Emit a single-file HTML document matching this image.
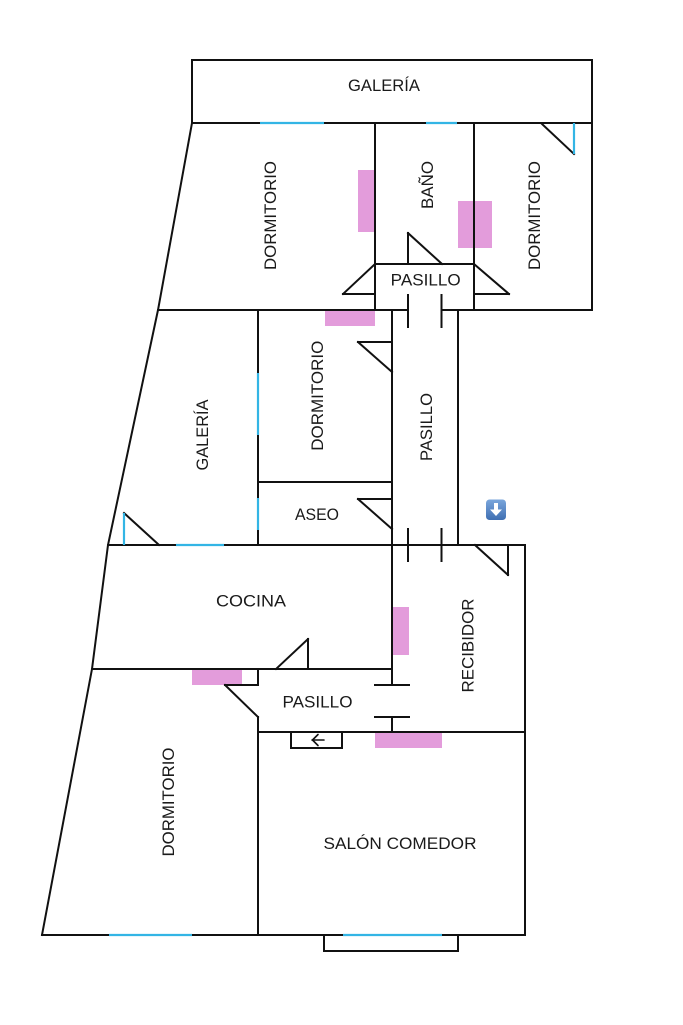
<!DOCTYPE html>
<html>
<head>
<meta charset="utf-8">
<style>
  html,body{margin:0;padding:0;background:#fff;}
  body{width:683px;height:1025px;overflow:hidden;}
  svg{display:block;}
  text{font-family:"Liberation Sans",Arial,sans-serif;font-size:17px;fill:#1a1a1a;}
</style>
</head>
<body>
<svg width="683" height="1025" viewBox="0 0 683 1025" xmlns="http://www.w3.org/2000/svg">
  <defs>
    <linearGradient id="ig" x1="0" y1="0" x2="0" y2="1">
      <stop offset="0" stop-color="#7aa6dc"/>
      <stop offset="1" stop-color="#3f6fb2"/>
    </linearGradient>
  </defs>
  <rect width="683" height="1025" fill="#fff"/>

  <!-- magenta blocks -->
  <g fill="#e39cdb">
    <rect x="358" y="170" width="16" height="62"/>
    <rect x="458" y="201" width="34" height="47"/>
    <rect x="325" y="311" width="50" height="15"/>
    <rect x="392" y="607" width="17" height="48"/>
    <rect x="192" y="669" width="50" height="16"/>
    <rect x="375" y="732" width="67" height="16"/>
  </g>

  <!-- walls -->
  <g stroke="#111" stroke-width="2" fill="none" stroke-linecap="square">
    <!-- top galeria -->
    <path d="M192,60 H592 V123 H192 Z"/>
    <!-- left outer wall -->
    <polyline points="192,123 158,310 108,545 92,669 42,935"/>
    <!-- bottom -->
    <line x1="42" y1="935" x2="525" y2="935"/>
    <!-- right upper wall -->
    <line x1="592" y1="123" x2="592" y2="310"/>
    <!-- y=310 -->
    <line x1="158" y1="310" x2="408" y2="310"/>
    <line x1="441.5" y1="310" x2="592" y2="310"/>
    <!-- upper partitions -->
    <line x1="375" y1="123" x2="375" y2="310"/>
    <line x1="474" y1="123" x2="474" y2="310"/>
    <line x1="375" y1="264" x2="474" y2="264"/>
    <!-- bano door -->
    <line x1="408" y1="233" x2="408" y2="264"/>
    <line x1="408" y1="233" x2="442" y2="264"/>
    <!-- pasillo left door -->
    <line x1="375" y1="264" x2="343" y2="294"/>
    <line x1="343" y1="294" x2="375" y2="294"/>
    <!-- pasillo right door -->
    <line x1="474" y1="264" x2="509" y2="294"/>
    <line x1="474" y1="294" x2="509" y2="294"/>
    <!-- top stubs -->
    <line x1="408" y1="295" x2="408" y2="327"/>
    <line x1="441.5" y1="295" x2="441.5" y2="327"/>
    <!-- top right door -->
    <line x1="542" y1="124" x2="574" y2="154"/>
    <!-- x=258 wall upper -->
    <line x1="258" y1="310" x2="258" y2="545"/>
    <!-- corridor walls -->
    <line x1="392" y1="310" x2="392" y2="685"/>
    <line x1="392" y1="717" x2="392" y2="732"/>
    <line x1="458" y1="310" x2="458" y2="545"/>
    <!-- dormitorio bottom -->
    <line x1="258" y1="482" x2="392" y2="482"/>
    <!-- dormitorio door -->
    <line x1="358" y1="342" x2="392" y2="342"/>
    <line x1="358" y1="342" x2="392" y2="372"/>
    <!-- aseo door -->
    <line x1="358" y1="499" x2="392" y2="499"/>
    <line x1="358" y1="499" x2="392" y2="529"/>
    <!-- galeria door -->
    <line x1="124" y1="513" x2="159" y2="545"/>
    <!-- y=545 -->
    <line x1="108" y1="545" x2="525" y2="545"/>
    <!-- bottom stubs -->
    <line x1="408" y1="529" x2="408" y2="561"/>
    <line x1="441.5" y1="529" x2="441.5" y2="561"/>
    <!-- right wall -->
    <line x1="525" y1="545" x2="525" y2="935"/>
    <!-- recibidor door -->
    <line x1="475" y1="545" x2="508" y2="575"/>
    <line x1="508" y1="545" x2="508" y2="575"/>
    <!-- cocina bottom -->
    <line x1="92" y1="669" x2="392" y2="669"/>
    <!-- cocina door -->
    <line x1="308" y1="639" x2="308" y2="669"/>
    <line x1="308" y1="639" x2="276" y2="669"/>
    <!-- x=258 lower -->
    <line x1="258" y1="669" x2="258" y2="685"/>
    <line x1="258" y1="717" x2="258" y2="935"/>
    <!-- pasillo lower left door -->
    <line x1="225" y1="685" x2="258" y2="685"/>
    <line x1="225" y1="685" x2="258" y2="717"/>
    <!-- horizontal stubs -->
    <line x1="375" y1="685" x2="409" y2="685"/>
    <line x1="375" y1="717" x2="409" y2="717"/>
    <!-- y=732 -->
    <line x1="258" y1="732" x2="525" y2="732"/>
    <!-- small box -->
    <polyline points="291,732 291,748 342,748 342,732"/>
    <!-- balcony -->
    <polyline points="324,935 324,951 458,951 458,935"/>
  </g>

  <!-- arrow -->
  <g stroke="#111" stroke-width="1.6" fill="none" stroke-linecap="round" stroke-linejoin="round">
    <line x1="312" y1="740" x2="324" y2="740"/>
    <polyline points="318,734.5 312.5,740 318,745.5"/>
  </g>

  <!-- windows -->
  <g stroke="#33b5e5" stroke-width="2.2" fill="none">
    <line x1="260" y1="123" x2="324" y2="123"/>
    <line x1="426" y1="123" x2="457" y2="123"/>
    <line x1="574" y1="123" x2="574" y2="154"/>
    <line x1="258" y1="373" x2="258" y2="435"/>
    <line x1="258" y1="498" x2="258" y2="530"/>
    <line x1="124" y1="513" x2="124" y2="545"/>
    <line x1="176" y1="545" x2="224" y2="545"/>
    <line x1="109" y1="935" x2="192" y2="935"/>
    <line x1="343" y1="935" x2="442" y2="935"/>
  </g>

  <!-- icon -->
  <rect x="486" y="499.5" width="20" height="20.5" rx="3.5" fill="url(#ig)"/>
  <rect x="494" y="503" width="4" height="7" fill="#fff"/>
  <polygon points="490,509.5 502,509.5 496,516" fill="#fff"/>

  <!-- labels -->
  <text x="384" y="91" text-anchor="middle" textLength="72" lengthAdjust="spacingAndGlyphs">GALERÍA</text>
  <text transform="translate(276,215.5) rotate(-90)" text-anchor="middle" textLength="109" lengthAdjust="spacingAndGlyphs">DORMITORIO</text>
  <text transform="translate(433,185) rotate(-90)" text-anchor="middle" textLength="48" lengthAdjust="spacingAndGlyphs">BAÑO</text>
  <text transform="translate(540,215.5) rotate(-90)" text-anchor="middle" textLength="109" lengthAdjust="spacingAndGlyphs">DORMITORIO</text>
  <text x="425.7" y="285.5" text-anchor="middle" textLength="70" lengthAdjust="spacingAndGlyphs">PASILLO</text>
  <text transform="translate(323,395.7) rotate(-90)" text-anchor="middle" textLength="110" lengthAdjust="spacingAndGlyphs">DORMITORIO</text>
  <text transform="translate(208,435) rotate(-90)" text-anchor="middle" textLength="71" lengthAdjust="spacingAndGlyphs">GALERÍA</text>
  <text transform="translate(432,427) rotate(-90)" text-anchor="middle" textLength="68" lengthAdjust="spacingAndGlyphs">PASILLO</text>
  <text x="317" y="520" text-anchor="middle" textLength="44" lengthAdjust="spacingAndGlyphs">ASEO</text>
  <text x="251" y="606.5" text-anchor="middle" textLength="70" lengthAdjust="spacingAndGlyphs">COCINA</text>
  <text transform="translate(473.3,645.5) rotate(-90)" text-anchor="middle" textLength="94" lengthAdjust="spacingAndGlyphs">RECIBIDOR</text>
  <text x="317.5" y="707.3" text-anchor="middle" textLength="70" lengthAdjust="spacingAndGlyphs">PASILLO</text>
  <text transform="translate(174,802) rotate(-90)" text-anchor="middle" textLength="109" lengthAdjust="spacingAndGlyphs">DORMITORIO</text>
  <text x="400" y="849" text-anchor="middle" textLength="153" lengthAdjust="spacingAndGlyphs">SALÓN COMEDOR</text>
</svg>
</body>
</html>
